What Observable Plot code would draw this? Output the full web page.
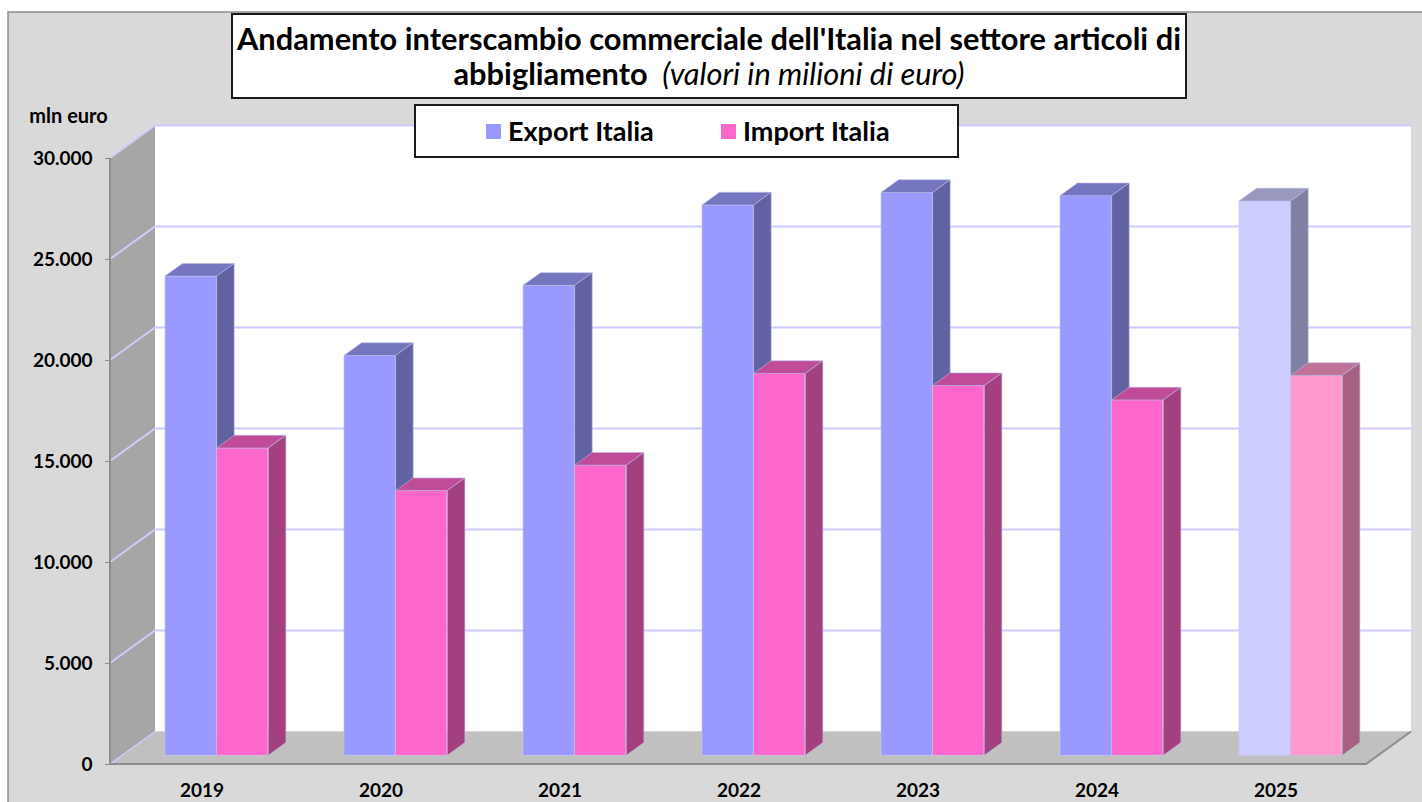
<!DOCTYPE html>
<html>
<head>
<meta charset="utf-8">
<script src="https://cdn.jsdelivr.net/npm/d3@7"></script>
<script src="https://cdn.jsdelivr.net/npm/@observablehq/plot@0.6"></script>
<style>
  html, body { margin: 0; padding: 0; background: #fff; }
  #wrap { position: relative; width: 1422px; height: 802px; overflow: hidden; font-family: Lato, "Open Sans", sans-serif; }
  #chart { position: absolute; left: 0; top: 0; }
  #title { position: absolute; left: 231px; top: 13px; width: 956px; height: 86px; box-sizing: border-box;
           border: 2px solid #1a1a1a; background: #fff; text-align: center; color: #000; line-height: 35px; padding-top: 6px; }
  #title .l1 { font-weight: bold; white-space: nowrap; }
  #title .b { font-weight: bold; white-space: pre; }
  #title .i { font-style: italic; font-weight: normal; white-space: pre; }
  #legend { position: absolute; left: 414px; top: 104px; width: 545px; height: 54px; box-sizing: border-box;
            border: 2px solid #1a1a1a; background: #fff; }
  .item { position: absolute; top: 9px; font-weight: bold; font-size: 27px; line-height: 32px; color: #000; white-space: nowrap; }
  .sw { display: inline-block; width: 15px; height: 15px; margin-right: 7px; vertical-align: 2px; }
</style>
</head>
<body>
<div id="wrap">
  <div id="chart"></div>
  <div id="title"><span class="l1" id="t1"></span><br><span class="b" id="t2"></span><span class="i" id="t3"></span></div>
  <div id="legend"></div>
</div>
<script>
// ---------- data ----------
const years = ["2019", "2020", "2021", "2022", "2023", "2024", "2025"];
const exportItalia = [23720, 19790, 23260, 27240, 27860, 27700, 27440];
const importItalia = [15210, 13100, 14360, 18900, 18300, 17590, 18800];
const seriesNames = ["Export Italia", "Import Italia"];
const yTicks = [0, 5000, 10000, 15000, 20000, 25000, 30000];
const yLabel = "mln euro";
const provisionalYear = "2025";
const titleLine1 = "Andamento interscambio commerciale dell'Italia nel settore articoli di";
const titleLine2a = "abbigliamento ";
const titleLine2b = " (valori in milioni di euro)";

// ---------- styles ----------
const W = 1422, H = 802, mL = 110, mR = 56, mT = 158, mB = 38;
const DX = 45, DY = -32.5;          // full depth of the 3D box (px)
const F0 = 0.27, F1 = 0.66;         // bar front/back depth fractions
const colors = {
  export: {front: "#9999ff", top: "#7676c0", side: "#6262a3"},
  exportP: {front: "#ccccff", top: "#9999c0", side: "#8080a3"},
  import: {front: "#ff66cc", top: "#c04c99", side: "#a3407f"},
  importP: {front: "#ff99cc", top: "#c07399", side: "#a66080"}
};
const barFrac = {export: [0.2275, 0.5155], import: [0.5155, 0.8035]};

const rows = (vals, key) => years.map((year, i) => ({year, value: vals[i], key, prov: year === provisionalYear}));
const expRows = rows(exportItalia, "export");
const impRows = rows(importItalia, "import");

const bwOf = (x, dims) => (typeof x.bandwidth === "number" ? x.bandwidth
  : (dims.width - dims.marginLeft - dims.marginRight) / years.length);

// background, walls, floor, gridlines
const walls = (index, {y}, ch, dims) => {
  const x0 = dims.marginLeft, x1 = dims.width - dims.marginRight;
  const y0 = y(0), yT = y(yTicks[yTicks.length - 1]);
  const g = d3.create("svg:g");
  g.append("rect").attr("x", 8).attr("y", 12).attr("width", W).attr("height", H)
    .attr("fill", "#d9d9d9").attr("stroke", "#8c8c8c").attr("stroke-width", 1.5);
  g.append("rect").attr("x", x0 + DX).attr("y", yT + DY).attr("width", x1 - x0).attr("height", y0 - yT)
    .attr("fill", "#ffffff");
  g.append("path").attr("d", `M${x0},${y0}L${x0},${yT}L${x0 + DX},${yT + DY}L${x0 + DX},${y0 + DY}Z`)
    .attr("fill", "#a6a6a6");
  g.append("path").attr("d", `M${x0},${y0}L${x1},${y0}L${x1 + DX},${y0 + DY}L${x0 + DX},${y0 + DY}Z`)
    .attr("fill", "#c0c0c0");
  for (const t of yTicks) {
    const yy = y(t);
    if (t > 0) {
      g.append("path").attr("d", `M${x0},${yy}L${x0 + DX},${yy + DY}L${x1 + DX},${yy + DY}`)
        .attr("fill", "none").attr("stroke", "#ccccff").attr("stroke-width", 2);
    } else {
      g.append("path").attr("d", `M${x0},${yy}L${x0 + DX},${yy + DY}`)
        .attr("fill", "none").attr("stroke", "#ccccff").attr("stroke-width", 1.5);
    }
  }
  g.append("path").attr("d", `M${x0},${yT}L${x0},${y0}L${x1},${y0}L${x1 + DX},${y0 + DY}`)
    .attr("fill", "none").attr("stroke", "#8c8c8c").attr("stroke-width", 2);
  return g.node();
};

// top + side faces of the 3D bars
const faces = (data, frac) => (index, {x, y}, ch, dims) => {
  const bw = bwOf(x, dims);
  const ddx = DX * (F1 - F0), ddy = DY * (F1 - F0);
  const g = d3.create("svg:g");
  for (const d of data) {
    const c = colors[d.key + (d.prov ? "P" : "")];
    const xl = x(d.year) + bw * frac[0] + DX * F0, xr = x(d.year) + bw * frac[1] + DX * F0;
    const yt = y(d.value) + DY * F0, yb = y(0) + DY * F0;
    g.append("path").attr("d", `M${xl},${yt}L${xr},${yt}L${xr + ddx},${yt + ddy}L${xl + ddx},${yt + ddy}Z`)
      .attr("fill", c.top).attr("stroke", "#b8b8e8").attr("stroke-width", 0.6);
    g.append("path").attr("d", `M${xr},${yt}L${xr + ddx},${yt + ddy}L${xr + ddx},${yb + ddy}L${xr},${yb}Z`)
      .attr("fill", c.side).attr("stroke", "#b8b8e8").attr("stroke-width", 0.6);
  }
  return g.node();
};

const bw0 = (W - mL - mR) / years.length;
const frontBar = (data, frac) => Plot.barY(data, {
  x: "year", y: "value",
  fill: d => colors[d.key + (d.prov ? "P" : "")].front,
  stroke: "#c8c8f0", strokeWidth: 0.6,
  insetLeft: bw0 * frac[0], insetRight: bw0 * (1 - frac[1]),
  dx: DX * F0, dy: DY * F0
});

const plot = Plot.plot({
  width: W, height: H,
  marginLeft: mL, marginRight: mR, marginTop: mT, marginBottom: mB,
  style: {fontFamily: "Lato, 'Open Sans', sans-serif", fontSize: "19px", fontWeight: "bold", color: "#000", background: "transparent", overflow: "visible"},
  x: {type: "band", domain: years, padding: 0},
  y: {domain: [0, 30000]},
  marks: [
    walls,
    frontBar(expRows, barFrac.export),
    faces(expRows, barFrac.export),
    frontBar(impRows, barFrac.import),
    faces(impRows, barFrac.import),
    Plot.axisY({ticks: yTicks, tickSize: 5, tickPadding: 13, stroke: "#8c8c8c", fontSize: 19, fontWeight: "bold",
      tickFormat: d => d3.format(",")(d).replace(/,/g, "."), label: null}),
    Plot.axisX({tickSize: 0, tickPadding: 19, fontSize: 19, fontWeight: "bold", label: null}),
    Plot.text([yLabel], {frameAnchor: "top-left", text: d => d, textAnchor: "middle", dx: -42, dy: -50, fontSize: 20, fontWeight: "bold"})
  ]
});
document.getElementById("chart").appendChild(plot);

// title
document.getElementById("t1").textContent = titleLine1;
document.getElementById("t2").textContent = titleLine2a;
document.getElementById("t3").textContent = titleLine2b;
const title = document.getElementById("title");
title.style.fontSize = "27px";
const t1 = document.getElementById("t1");
const fs = 27 * 944 / t1.getBoundingClientRect().width;
title.style.fontSize = fs.toFixed(2) + "px";

// legend
const legend = document.getElementById("legend");
const legendLeft = [70, 305];
seriesNames.forEach((name, i) => {
  const key = i === 0 ? "export" : "import";
  const it = document.createElement("div");
  it.className = "item";
  it.style.left = legendLeft[i] + "px";
  it.innerHTML = `<span class="sw" style="background:${colors[key].front}"></span>`;
  it.appendChild(document.createTextNode(name));
  legend.appendChild(it);
});
</script>
</body>
</html>
